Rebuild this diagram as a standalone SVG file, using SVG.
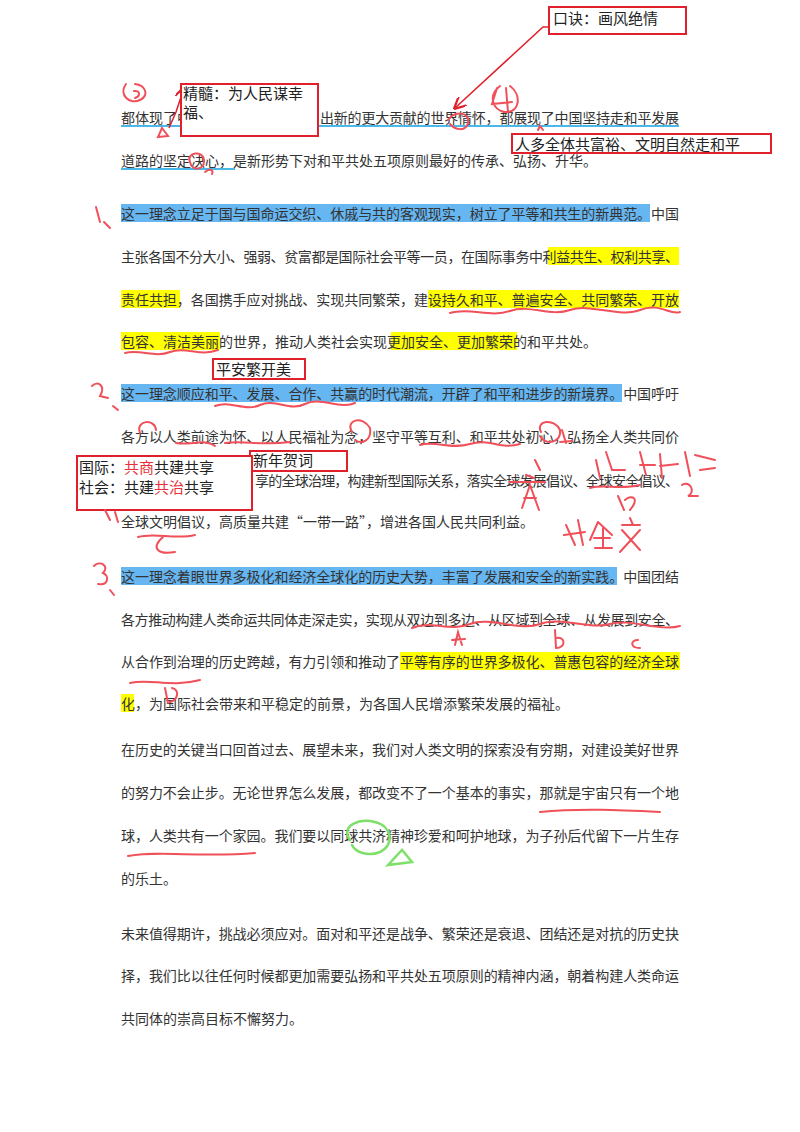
<svg xmlns="http://www.w3.org/2000/svg" width="800" height="1132" viewBox="0 0 800 1132">
<style>
.t{font-family:"Noto Sans CJK SC",sans-serif;font-size:14px;fill:#333}
.n{font-family:"Noto Sans CJK SC",sans-serif;font-size:15px;fill:#222}
.r{fill:#e8303a}
.box{fill:#fff;stroke:#e0202a;stroke-width:2}
.hb{fill:#66b6f2}
.hy{fill:#ffff00}
.ink{fill:none;stroke:#f0505a;stroke-width:2;stroke-linecap:round}
.inkg{fill:none;stroke:#7ee06a;stroke-width:2.5;stroke-linecap:round}
.ul{stroke:#4ab8e8;stroke-width:2}
</style>
<defs><marker id="ah" markerWidth="8" markerHeight="8" refX="7" refY="4" orient="auto"><path d="M0,0L8,4L0,8" fill="none" stroke="#e0202a" stroke-width="1.5"/></marker></defs>
<rect width="800" height="1132" fill="#fff"/>
<g id="highlights">
<rect class="hb" x="121" y="204" width="529" height="18"/>
<rect class="hy" x="548" y="247" width="131" height="18"/>
<rect class="hy" x="121" y="290" width="59" height="18"/>
<rect class="hy" x="428" y="290" width="251" height="18"/>
<rect class="hy" x="121" y="332" width="99" height="18"/>
<rect class="hy" x="391" y="332" width="126" height="18"/>
<rect class="hb" x="121" y="384" width="501" height="18"/>
<rect class="hb" x="121" y="567" width="496" height="18"/>
<rect class="hy" x="400" y="652" width="280" height="18"/>
<rect class="hy" x="121" y="694" width="13" height="18"/>
<line class="ul" x1="121" y1="126" x2="679" y2="126"/>
<line class="ul" x1="121" y1="169" x2="235" y2="169"/>
</g>
<g id="text">
<text class="t" x="121" y="123">都体现了中</text>
<text class="t" x="320" y="123" textLength="359">出新的更大贡献的世界情怀，都展现了中国坚持走和平发展</text>
<text class="t" x="121" y="166">道路的坚定决心，是新形势下对和平共处五项原则最好的传承、弘扬、升华。</text>
<text class="t" x="121" y="219" textLength="558">这一理念立足于国与国命运交织、休戚与共的客观现实，树立了平等和共生的新典范。中国</text>
<text class="t" x="121" y="262" textLength="558">主张各国不分大小、强弱、贫富都是国际社会平等一员，在国际事务中利益共生、权利共享、</text>
<text class="t" x="121" y="305" textLength="558">责任共担，各国携手应对挑战、实现共同繁荣，建设持久和平、普遍安全、共同繁荣、开放</text>
<text class="t" x="121" y="347">包容、清洁美丽的世界，推动人类社会实现更加安全、更加繁荣的和平共处。</text>
<text class="t" x="121" y="399" textLength="558">这一理念顺应和平、发展、合作、共赢的时代潮流，开辟了和平和进步的新境界。中国呼吁</text>
<text class="t" x="121" y="442" textLength="558">各方以人类前途为怀、以人民福祉为念，坚守平等互利、和平共处初心，弘扬全人类共同价</text>
<text class="t" x="255" y="486" textLength="424">享的全球治理，构建新型国际关系，落实全球发展倡议、全球安全倡议、</text>
<text class="t" x="121" y="527">全球文明倡议，高质量共建“一带一路”，增进各国人民共同利益。</text>
<text class="t" x="121" y="582" textLength="558">这一理念着眼世界多极化和经济全球化的历史大势，丰富了发展和安全的新实践。中国团结</text>
<text class="t" x="121" y="625" textLength="558">各方推动构建人类命运共同体走深走实，实现从双边到多边、从区域到全球、从发展到安全、</text>
<text class="t" x="121" y="667" textLength="558">从合作到治理的历史跨越，有力引领和推动了平等有序的世界多极化、普惠包容的经济全球</text>
<text class="t" x="121" y="709">化，为国际社会带来和平稳定的前景，为各国人民增添繁荣发展的福祉。</text>
<text class="t" x="121" y="755" textLength="558">在历史的关键当口回首过去、展望未来，我们对人类文明的探索没有穷期，对建设美好世界</text>
<text class="t" x="121" y="798" textLength="558">的努力不会止步。无论世界怎么发展，都改变不了一个基本的事实，那就是宇宙只有一个地</text>
<text class="t" x="121" y="841" textLength="558">球，人类共有一个家园。我们要以同球共济精神珍爱和呵护地球，为子孙后代留下一片生存</text>
<text class="t" x="121" y="884">的乐土。</text>
<text class="t" x="121" y="939" textLength="558">未来值得期许，挑战必须应对。面对和平还是战争、繁荣还是衰退、团结还是对抗的历史抉</text>
<text class="t" x="121" y="981" textLength="558">择，我们比以往任何时候都更加需要弘扬和平共处五项原则的精神内涵，朝着构建人类命运</text>
<text class="t" x="121" y="1024">共同体的崇高目标不懈努力。</text>
</g>
<g id="connectors">
<path d="M549,27 L543,27 L455,108" fill="none" stroke="#e0202a" stroke-width="1.5" marker-end="url(#ah)"/>
<path d="M169,128 L176,112 L184,88" fill="none" stroke="#e0202a" stroke-width="1.5" marker-end="url(#ah)"/>
</g>
<g id="note-koujue"><rect class="box" x="549" y="7" width="137" height="27"/><text class="n" x="553" y="24">口诀：画风绝情</text></g>
<g id="note-jingsui"><rect class="box" x="181" y="84" width="137" height="52"/><text class="n" x="183" y="99">精髓：为人民谋幸</text><text class="n" x="183" y="118">福、</text></g>
<g id="note-renduo"><rect class="box" x="512" y="134" width="259" height="19"/><text class="n" x="515" y="150">人多全体共富裕、文明自然走和平</text></g>
<g id="note-pingan"><rect class="box" x="213" y="359" width="92" height="20"/><text class="n" x="216" y="375">平安繁开美</text></g>
<g id="note-xinnian"><rect class="box" x="250" y="451" width="97" height="20"/><text class="n" x="253" y="466">新年贺词</text></g>
<g id="note-guoji"><rect class="box" x="77" y="456" width="175" height="54"/>
<text class="n" x="79" y="473">国际：<tspan class="r">共商</tspan>共建共享</text>
<text class="n" x="79" y="493">社会：共建<tspan class="r">共治</tspan>共享</text></g>
<g id="handwriting">
<path class="ink" d="M126,84 C118,95 130,105 140,100 C150,95 145,85 135,84 M134,91 C140,90 141,96 135,98"/>
<path class="ink" d="M162,128 L168,136 L158,137 Z"/>
<path class="ink" d="M448,120 C455,110 470,112 468,123 C466,132 455,130 450,124"/>
<path class="ink" d="M500,86 C488,95 492,110 505,112 C520,113 522,95 510,86 M497,88 L492,104 L512,102 M506,88 L508,112"/>
<path class="ink" d="M538,130 L540,126 L543,130"/>
<path class="ink" d="M190,162 C186,152 203,150 204,160 C205,170 192,172 190,162 M205,172 C210,168 214,170 212,174"/>
<path class="ink" d="M96,207 L100,222 M104,222 L110,228"/>
<path class="ink" d="M450,313 C470,307 490,318 510,311 S550,317 570,310 S620,318 640,310 S670,316 680,312"/>
<path class="ink" d="M125,353 C140,349 155,358 170,352 S200,357 218,350"/>
<path class="ink" d="M92,386 C98,380 106,386 100,396 L108,398 M113,406 L118,410"/>
<path class="ink" d="M215,406 C230,400 245,412 260,405 S290,412 305,404 S340,410 355,403"/>
<path class="ink" d="M140,433 C135,420 155,418 156,430 M176,443 C190,446 205,438 215,446 M225,443 C245,440 260,446 290,442"/>
<path class="ink" d="M352,432 C345,420 362,415 370,428 C372,440 362,445 355,440"/>
<path class="ink" d="M420,445 C435,440 450,450 470,444 S500,450 520,444"/>
<path class="ink" d="M541,432 C535,420 555,418 560,430 C562,443 545,446 540,436"/>
<path class="ink" d="M562,430 L566,443 M560,442 L572,441"/>
<path class="ink" d="M510,482 L545,482 M526,475 L534,478 M535,460 L540,470 M522,508 L530,485 L539,510 M524,498 L536,498"/>
<path class="ink" d="M596,460 L600,478 M606,452 L612,470 L625,470 M640,452 L646,475 M640,465 L655,465 M660,454 L662,478 M660,466 L678,464 M685,452 L690,476 M695,455 L715,460 M700,470 L715,468"/>
<path class="ink" d="M590,488 C605,484 620,490 640,485 M618,496 L624,510 M625,500 C632,494 640,498 630,510 M682,485 C690,480 696,492 688,496 L698,496"/>
<path class="ink" d="M566,525 L575,545 M564,535 L585,532 M578,520 L583,545 M598,522 L590,540 M598,522 L612,535 M594,538 L610,538 M603,528 L603,548 M595,548 L612,548 M622,525 L640,525 M630,518 L633,525 M622,530 L640,550 M640,530 L620,552"/>
<path class="ink" d="M105,510 L110,520 M115,512 L118,522"/>
<path class="ink" d="M138,537 C155,532 175,540 195,535 M163,537 C150,548 158,555 175,552"/>
<path class="ink" d="M94,566 C100,560 110,566 103,573 C110,576 108,586 98,584 M110,590 L114,595"/>
<path class="ink" d="M412,628 C430,620 450,632 470,624 S520,632 540,624 S590,630 610,624 S660,632 680,626"/>
<path class="ink" d="M455,645 L458,632 L462,645 M452,640 L465,639 M555,630 L556,648 M556,638 C566,636 566,648 556,648 M638,640 C630,640 630,648 640,648"/>
<path class="ink" d="M130,683 C150,678 170,688 200,680 M165,688 L168,703 M172,688 C180,690 178,700 170,702"/>
<path class="ink" d="M540,812 C580,808 620,810 660,812"/>
<path class="ink" d="M128,856 C160,850 200,858 255,853"/>
<path class="inkg" d="M350,840 C340,825 360,818 375,822 C392,826 395,845 380,852 C368,857 355,852 352,845"/>
<path class="inkg" d="M388,865 L402,850 L412,862 Z"/>
</g>
</svg>
